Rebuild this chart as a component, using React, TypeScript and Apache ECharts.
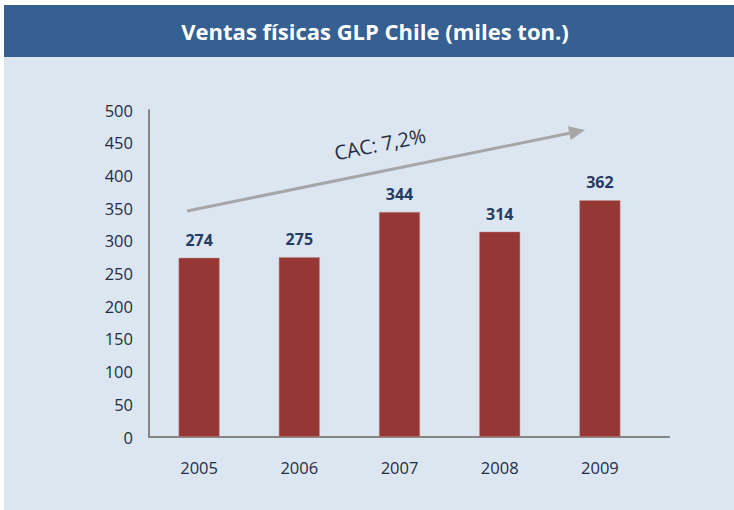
import React, { useEffect, useRef } from "react";
import * as echarts from "echarts";

const categories = ["2005", "2006", "2007", "2008", "2009"];
const ventas = [274, 275, 344, 314, 362];
const yTicks = { min: 0, max: 500, interval: 50 };
const titleText = "Ventas físicas GLP Chile (miles ton.)";
const cacText = "CAC: 7,2%";

export default function App() {
  const ref = useRef<HTMLDivElement>(null);
  useEffect(() => {
    if (!ref.current) return;
    const chart = echarts.init(ref.current, undefined, { renderer: "svg" });
    const x0 = 187, y0 = 211, x1 = 585, y1 = 130;
    const ang = Math.atan2(y1 - y0, x1 - x0);
    const L = 16, W = 7;
    const bx = x1 - L * Math.cos(ang), by = y1 - L * Math.sin(ang);
    const px = -Math.sin(ang), py = Math.cos(ang);
    chart.setOption({
      animation: false,
      backgroundColor: "#ffffff",
      grid: { left: 149, right: 84, top: 110, bottom: 73, containLabel: false },
      xAxis: {
        type: "category",
        data: categories,
        axisLine: { lineStyle: { color: "#868686", width: 2 } },
        axisTick: { show: false },
        axisLabel: { color: "#1f2d45", fontSize: 16.5, fontFamily: "Open Sans", margin: 22 },
      },
      yAxis: {
        type: "value",
        min: yTicks.min,
        max: yTicks.max,
        interval: yTicks.interval,
        axisLine: { show: true, lineStyle: { color: "#868686", width: 2 } },
        axisTick: { show: false },
        splitLine: { show: false },
        axisLabel: { color: "#1f2d45", fontSize: 16.5, fontFamily: "Open Sans", margin: 16 },
      },
      series: [
        {
          type: "bar",
          data: ventas,
          barWidth: 41,
          itemStyle: { color: "#953735", borderColor: "#c0928f", borderWidth: 0.5 },
          label: {
            show: true,
            position: "top",
            distance: 10,
            color: "#243b63",
            fontSize: 16,
            fontWeight: "bold",
            fontFamily: "Open Sans",
          },
        },
      ],
      graphic: [
        { type: "rect", z: -10, shape: { x: 4, y: 57, width: 730, height: 453 }, style: { fill: "#dce6f1" } },
        { type: "rect", z: -10, shape: { x: 4, y: 5, width: 730, height: 52 }, style: { fill: "#366092" } },
        { type: "line", shape: { x1: 648, y1: 437, x2: 670, y2: 437 }, style: { stroke: "#868686", lineWidth: 2 } },
        {
          type: "text",
          x: 375,
          y: 31,
          style: {
            text: titleText,
            fill: "#ffffff",
            fontSize: 22,
            fontWeight: "bold",
            fontFamily: "Open Sans",
            align: "center",
            verticalAlign: "middle",
          },
        },
        {
          type: "line",
          shape: { x1: x0, y1: y0, x2: bx, y2: by },
          style: { stroke: "#a6a6a6", lineWidth: 3 },
        },
        {
          type: "polygon",
          shape: {
            points: [
              [x1, y1],
              [bx + px * W, by + py * W],
              [bx - px * W, by - py * W],
            ],
          },
          style: { fill: "#a6a6a6" },
        },
        {
          type: "text",
          x: 380,
          y: 144,
          rotation: -ang,
          style: {
            text: cacText,
            fill: "#1f2d45",
            fontSize: 20,
            fontFamily: "Open Sans",
            align: "center",
            verticalAlign: "middle",
          },
        },
      ],
    });
    return () => chart.dispose();
  }, []);
  return (
    <div
      ref={ref}
      style={{ position: "absolute", left: 0, top: 0, width: 734, height: 510 }}
    />
  );
}
